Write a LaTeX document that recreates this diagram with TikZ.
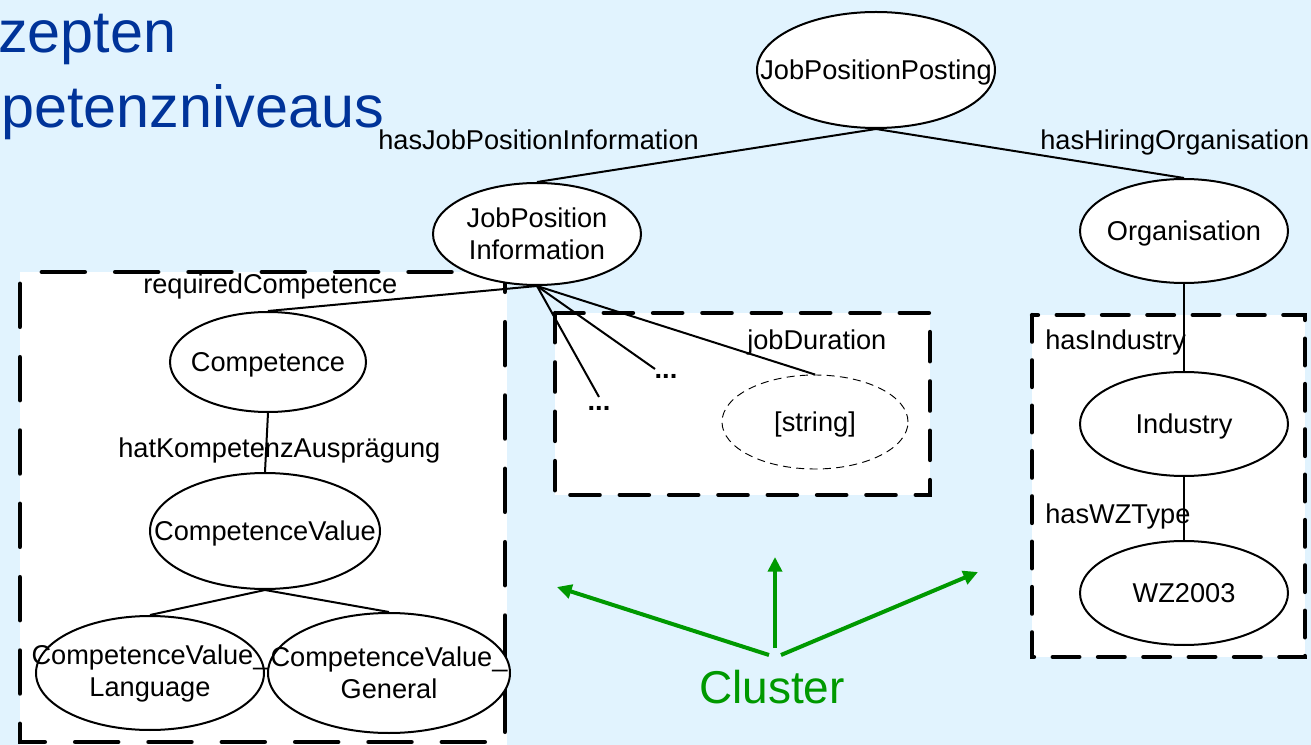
\documentclass[tikz,border=0pt]{standalone}
\usepackage{fontspec}
\setmainfont{Liberation Sans}
\usetikzlibrary{arrows.meta,shapes.geometric}
\definecolor{bgblue}{RGB}{225,243,254}
\definecolor{titleblue}{RGB}{0,51,153}
\definecolor{cgreen}{RGB}{0,153,0}
\pgfdeclarelayer{back}
\pgfsetlayers{back,main}
\newcommand\zl[1]{\makebox[0pt]{#1}}
\begin{document}
\begin{tikzpicture}[x=0.75pt,y=-0.75pt,
  ell/.style={ellipse,draw,line width=1.5pt,fill=white,inner sep=0pt,
    font=\fontsize{20.4}{24}\selectfont,align=center},
  one/.style={text height=14.7pt,text depth=0pt},
  sz/.style 2 args={minimum width=#1*0.75pt,minimum height=#2*0.75pt},
  edge/.style={line width=1.5pt},
  lbl/.style={anchor=base west,inner sep=0pt,font=\fontsize{20.4}{24}\selectfont},
  dots/.style={anchor=base,inner sep=0pt,font=\fontsize{20.4}{24}\selectfont\bfseries},
  title/.style={anchor=base west,inner sep=0pt,text=titleblue,font=\fontsize{44.5}{50}\selectfont},
  boxA/.style={line width=3.6pt,line cap=round,dash pattern=on 32pt off 23pt,dash phase=46pt},
  boxB/.style={line width=3.2pt,line cap=round,dash pattern=on 22pt off 15pt},
  boxC/.style={line width=3.2pt,line cap=round,dash pattern=on 20pt off 14pt},
  garrow/.style={cgreen,line width=3pt,-{Triangle[length=11pt,width=10.5pt]}}
]
\useasboundingbox (0,0) rectangle (1311,745);

% background and cluster boxes
\begin{pgfonlayer}{back}
\fill[bgblue] (0,0) rectangle (1311,745);
\fill[white] (20,272) rectangle (507,745);
\draw[boxA] (20,272) rectangle (505,742);
\fill[white] (555,313) rectangle (930,495);
\draw[boxB] (555,313) rectangle (930,495);
\fill[white] (1032,315) rectangle (1305,657);
\draw[boxC] (1032,315) rectangle (1305,657);
\end{pgfonlayer}

% title fragments
\node[title] (t1) at (-2,53) {zepten};
\node[title] (t2) at (1,128) {petenzniveaus};

% ellipses
\node[ell,one,sz={238}{116}] (jpp) at (876,70) {\zl{JobPositionPosting}};
\node[ell,sz={208}{102}] (jpi) at (537,234) {\zl{JobPosition}\\\zl{Information}};
\node[ell,one,sz={208}{104}] (org) at (1184,231) {\zl{Organisation}};
\node[ell,one,sz={196}{100}] (comp) at (268,362) {\zl{Competence}};
\node[ell,one,sz={230}{116}] (cv) at (265,531) {\zl{CompetenceValue}};
\node[ell,sz={228}{114}] (cvl) at (150,673) {\zl{CompetenceValue\_}\\\zl{Language}};
\node[ell,sz={242}{120}] (cvg) at (389,673) {\zl{CompetenceValue\_}\\\zl{General}};
\node[ell,one,sz={186}{94},line width=0.7pt,dash pattern=on 6pt off 4pt] (str) at (815,422) {\zl{[string]}};
\node[ell,one,sz={208}{104}] (ind) at (1184,424) {\zl{Industry}};
\node[ell,one,sz={208}{104}] (wz) at (1184,593) {\zl{WZ2003}};

% dots
\coordinate (d1) at (599,397);
\coordinate (d2) at (655,369);
\node[dots] (dots1) at (599,411) {...};
\node[dots] (dots2) at (666,379) {...};

% connectors
\draw[edge] (jpp.south) -- (jpi.north);
\draw[edge] (jpp.south) -- (org.north);
\draw[edge] (jpi.south) -- (comp.north);
\draw[edge] (jpi.south) -- (d1);
\draw[edge] (jpi.south) -- (d2);
\draw[edge] (jpi.south) -- (str.north);
\draw[edge] (comp.south) -- (cv.north);
\draw[edge] (cv.south) -- (cvl.north);
\draw[edge] (cv.south) -- (cvg.north);
\draw[edge] (org.south) -- (ind.north);
\draw[edge] (ind.south) -- (wz.north);

% connector labels
\node[lbl] (l1) at (378,150) {hasJobPositionInformation};
\node[lbl] (l2) at (1040,150) {hasHiringOrganisation};
\node[lbl] (l3) at (143,294) {requiredCompetence};
\node[lbl] (l4) at (118,457) {hatKompetenzAusprägung};
\node[lbl] (l5) at (747,350) {jobDuration};
\node[lbl] (l6) at (1045,350) {hasIndustry};
\node[lbl] (l7) at (1045,523) {hasWZType};

% cluster annotation
\node[anchor=base,inner sep=0pt,text=cgreen,font=\fontsize{34.5}{40}\selectfont] (cl) at (772,703) {Cluster};
\coordinate (a1) at (769,655);
\coordinate (a2) at (775,648);
\coordinate (a3) at (781,655);
\coordinate (b1) at (557,587);
\coordinate (b2) at (775,557);
\coordinate (b3) at (978,572);
\draw[garrow] (a1) -- (b1);
\draw[garrow] (a2) -- (b2);
\draw[garrow] (a3) -- (b3);
\end{tikzpicture}
\end{document}
